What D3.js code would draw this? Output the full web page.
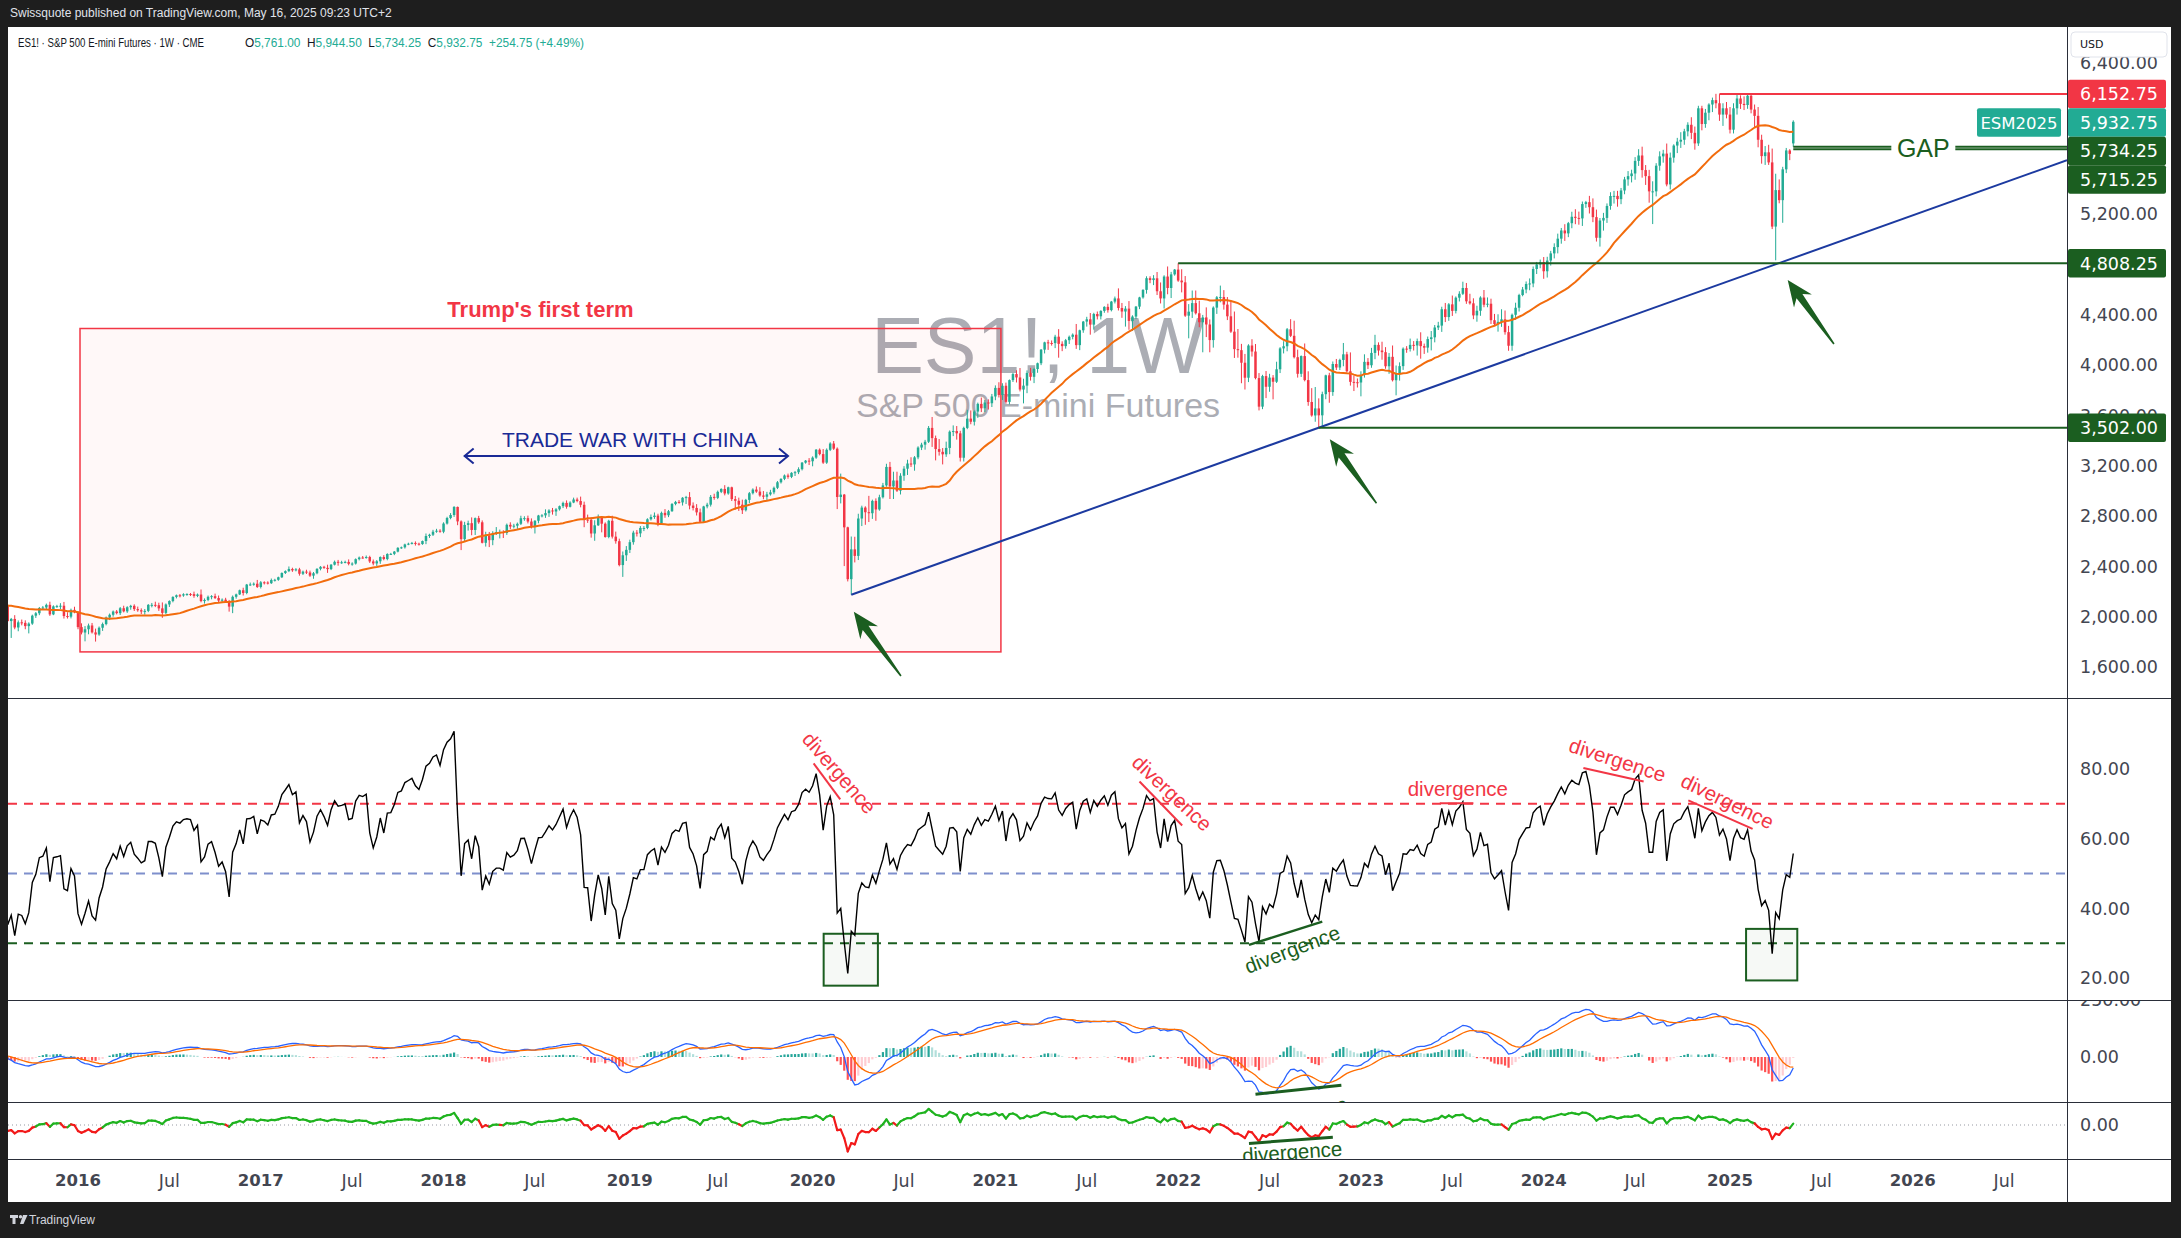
<!DOCTYPE html>
<html>
<head>
<meta charset="utf-8">
<title>ES1! 1W</title>
<script src="https://cdn.jsdelivr.net/npm/d3@7"></script>
<style>
  html, body { margin: 0; padding: 0; background: #1e1e1e; overflow: hidden; }
  text { font-family: "DejaVu Sans", sans-serif; }
  .ui { font-family: "Liberation Sans", Arial, sans-serif; }
  .narrow { font-family: "Liberation Sans Narrow", "Liberation Sans", Arial, sans-serif; }
</style>
</head>
<body>
<div id="chart"></div>
<script>
// weekly bars, first bar = week of 2014-12-29
var firstWeek = "2014-12-29";

// closes Jan..Aug 2015, only for indicator warm-up (left of the visible window)
var warmup2015 = [2058,2044,2019,2051,1995,2055,2096,2110,2104,2071,2053,2108,2061,2067,2102,2081,2117,2108,2116,2122,2126,2107,2092,2094,2110,2102,2077,2077,2127,2079,2104,2078];

var close2015 = [2086,1965,1982,1914,1955,1951,1925,1945,2008,2027,2069,2073,2094,2018,2082,2084,2087,2005,2000,2054,2035];
var close2016 = [1917,1874,1900,1930, 1875,1858,1912,1941, 1993,2015,2041,2028, 2067,2042,2075,2086,2060, 2051,2041,2046,2094, 2094,2091,2066,2030, 2097,2124,2157,2170,2168, 2178,2180,2179,2165, 2176,2124,2133,2158,2163, 2148,2128,2135,2121, 2080,2158,2177,2210, 2188,2255,2256,2262,2236];
var close2017 = [2273,2271,2266,2291, 2293,2313,2347,2362, 2379,2368,2376,2341,2358, 2351,2326,2345,2380, 2396,2388,2378,2413, 2436,2430,2432,2435,2420, 2422,2457,2470,2469, 2474,2439,2423,2440, 2474,2458,2498,2499,2517, 2547,2551,2574,2580, 2586,2580,2577,2601, 2641,2651,2675,2683,2675];
var close2018 = [2740,2784,2808,2872, 2757,2616,2729,2743, 2689,2783,2750,2587,2643, 2608,2659,2672,2672, 2665,2730,2716,2723, 2738,2782,2783,2756,2721, 2762,2804,2805,2823, 2844,2836,2853,2878,2904, 2873,2907,2931,2919, 2889,2771,2770,2661, 2726,2784,2739,2633,2762, 2636,2600,2410,2488];
var close2019 = [2531,2592,2668,2662, 2705,2705,2774,2792, 2803,2744,2825,2806,2838, 2895,2912,2908,2945, 2950,2883,2864,2829,2754, 2876,2890,2952,2944, 2992,3015,2979,3028, 2934,2921,2890,2846,2928, 2981,3010,2994,2963, 2953,2972,2988,3024, 3068,3095,3122,3111,3143, 3148,3172,3224,3240];
var close2020 = [3235,3264,3327,3292,3224, 3326,3376,3335,2951, 2970,2710,2298,2535, 2483,2780,2867,2830, 2822,2920,2852,2949,3043, 3190,3035,3082,3001, 3120,3176,3217,3210,3266, 3344,3367,3390,3500, 3419,3332,3310,3290, 3341,3470,3475,3457,3263, 3500,3574,3549,3630, 3691,3656,3702,3696,3750];
var close2021 = [3818,3762,3835,3707, 3880,3928,3901,3805, 3836,3937,3906,3968, 4014,4122,4180,4175,4174, 4225,4168,4150,4197, 4224,4241,4158,4276, 4345,4363,4321,4405,4387, 4430,4462,4436,4504, 4529,4453,4425,4448, 4350,4385,4464,4537,4597, 4690,4675,4689,4586, 4529,4703,4612,4720,4758];
var close2022 = [4671,4657,4392,4424, 4492,4411,4340,4378, 4322,4198,4456,4538, 4540,4480,4387,4265,4126, 4118,4018,3899,4155, 4107,3896,3669,3912, 3827,3900,3867,3966,4132, 4149,4284,4232,4062, 3930,4071,3880,3706,3599, 3655,3600,3768,3918, 3785,4008,3980,4040, 4085,3950,3866,3863,3861];
var close2023 = [3920,4025,3998,4096, 4160,4115,4102,3990, 4065,3879,3936,3991,4130, 4127,4160,4155,4190, 4150,4138,4206,4220, 4298,4313,4443,4381,4482, 4430,4535,4566,4612, 4506,4490,4394,4431, 4536,4479,4487,4356,4325, 4343,4363,4261,4153, 4399,4455,4556,4600, 4644,4648,4763,4799,4818];
var close2024 = [4745,4830,4887,4937, 5004,5069,5046,5127, 5178,5169,5165,5279,5294, 5254,5175,5011,5148, 5169,5264,5343,5344,5318, 5387,5475,5501,5522, 5622,5665,5549,5501, 5380,5380,5584,5658,5680, 5435,5648,5744,5775, 5790,5857,5909,5845, 5761,6040,5915,6005,6070, 6105,6080,5990,6040];
var close2025 = [5990,5870,6040,6118,6075, 6066,6140,6030,5980, 5790,5660,5690,5610, 5100,5390,5310,5555, 5705,5678,5932.75];

// upper / lower wick beyond the candle body, points
var up2015 = [12,14,8,30,15,22,20,10,8,10,8,12,10,25,8,10,20,30,30,10,25];
var dn2015 = [20,5,134,14,30,20,25,58,10,18,15,14,18,12,6,12,25,20,15,14,8];
var up2016 = [10,30,25,15, 20,30,10,12, 8,10,8,12, 10,20,8,8,12, 20,15,15,6, 15,25,20,47, 8,6,5,6,10, 8,6,8,20, 8,40,12,10,8, 20,20,10,15, 12,10,6,5, 20,5,15,10,30];
var dn2016 = [17,15,70,40, 9,56,10,25, 10,20,15,10, 15,8,12,20,15, 12,20,25,10, 20,15,20,39, 12,20,10,12,15, 10,12,15,15, 10,10,20,10,20, 8,15,20,10, 40,52,15,5, 20,10,10,10,8];
var up2017 = [10,8,10,12, 8,5,5,6, 20,10,10,12,8, 15,15,10,5, 6,8,25,5, 10,15,12,10,20, 10,6,8,12, 12,10,15,10, 5,15,6,8,5, 5,6,6,8, 8,12,8,4, 20,8,15,15,12];
var dn2017 = [12,15,10,6, 12,8,6,8, 8,12,8,15,10, 12,10,25,8, 12,8,30,8, 6,25,10,8,12, 15,8,10,8, 8,12,15,20, 20,10,10,8,10, 6,8,10,6, 6,15,12,6, 25,15,10,8,8];
var up2018 = [10,10,15,6.5, 3,8,25,20, 46,5,18,15,32, 30,20,40,20, 15,10,20,15, 10,20,15,20,25, 5,5,10,30, 10,20,10,5,10, 20,10,15,15, 35,25,40,20, 40,28,15,10,8, 40,40,20,30];
var dn2018 = [12,8,10,15, 30,87,16,45, 42,40,12,5,30, 55,40,10,50, 40,15,20,15, 25,10,20,15,20, 60,20,15,20, 30,25,35,10,15, 15,5,5,10, 20,60,25,33, 58,5,69,5,10, 15,20,10,94];
var up2019 = [30,20,15,20, 15,15,8,20, 25,15,10,30,10, 8,8,15,5, 10,40,25,30,30, 5,15,15,25, 10,5,30,5, 5,25,25,40,8, 10,10,25,35, 35,20,20,10, 10,5,8,15,5, 10,15,5,5];
var dn2019 = [45,25,20,25, 30,25,10,10, 15,25,5,20,15, 5,10,10,25, 50,30,20,25,10, 10,15,15,15, 10,10,15,10, 15,70,50,30,10, 25,10,10,10, 20,30,10,15, 10,10,10,15,10, 25,15,10,8];
var up2020 = [20,10,5,10,40, 11,10,20,10, 167,5,5,102, 100,38,15,10, 130,10,20,20,20, 25,40,70,70, 20,20,30,50,10, 10,15,15,15, 87,20,80,30, 50,10,45,40,20, 10,70,65,10, 10,50,20,25,20];
var dn2020 = [30,40,10,10,10, 10,10,10,96, 51,308,18,124, 52,33,60,100, 70,45,90,10,10, 10,100,100,10, 30,40,50,20,50, 15,20,40,10, 70,90,30,80, 20,50,35,50,30, 30,10,20,30, 50,30,30,50,30];
var up2021 = [20,45,20,25, 5,10,30,75, 55,20,40,10, 5,5,5,20,20, 15,60,20,10, 10,10,85,5, 5,20,50,10,20, 5,5,25,5, 15,80,40,20, 60,10,5,5,5, 15,15,25,50, 70,10,80,20,5];
var dn2021 = [30,20,40,15, 20,15,40,15, 110,60,30,50, 30,15,30,55,20, 40,110,40,20, 30,20,30,40, 20,40,80,40,25, 25,15,20,10, 15,20,50,120, 70,80,20,20,10, 30,25,40,30, 40,80,50,80,10];
var up2022 = [50.25,90,50,60, 100,100,100,20, 80,40,10,10, 91,55,60,125,160, 160,50,70,10, 50,60,40,10, 40,30,20,60,10, 40,10,80,120, 60,5,100,70,110, 170,80,20,5, 20,20,40,10, 90,20,150,50,30];
var dn2022 = [10,80,10,180, 50,10,40,239, 100,97,60,50, 40,40,30,10,70, 60,163,94,35, 40,10,30,20, 90,40,140,10,30, 40,40,10,10, 30,25,10,30,10, 50,98,90,40, 85,30,20,20, 50,10,30,70,40];
var up2023 = [30,60,30,40, 80,20,70,40, 30,90,60,30,10, 20,50,30,20, 70,20,20,50, 20,30,20,50,10, 70,10,20,50, 40,60,40,40, 10,60,50,40,50, 60,80,70,50, 10,40,10,20, 20,40,20,20,20];
var dn2023 = [110,20,30,20, 50,40,60,20, 60,10,120,60,30, 30,20,40,80, 100,50,40,90, 40,20,50,40,30, 40,20,30,10, 20,10,30,50, 40,20,20,30,10, 60,40,20,40, 40,40,30,10, 30,50,30,40,30];
var up2024 = [40,30,20,30, 40,20,50,10, 40,60,50,20,10, 50,70,60,20, 40,20,30,40,40, 20,20,40,30, 30,50,70,40, 50,80,20,40,30, 80,40,10,30, 60,20,20,60, 50,20,20,30,10, 20,50,72.75,40];
var dn2024 = [60,50,40,40, 50,40,60,30, 40,50,50,60,30, 50,40,30,70, 80,40,30,60,60, 40,30,50,50, 50,40,60,70, 90,260,40,40,50, 15,40,40,60, 50,40,40,50, 50,20,50,30,60, 60,40,50,90];
var up2025 = [50,60,40,30,25, 60,10,10,40, 70,40,50,60, 110,130,85,20, 20,10.25,0];
var dn2025 = [30,30,30,50,40, 40,30,30,90, 60,60,70,20, 20,268,25,180, 30,50,0];

// current week from the legend: open, high, low, close
var lastWeekOHLC = [5761, 5944.5, 5734.25, 5932.75];
var lastChange = [254.75, 4.49];

var priceTicks = [1600, 2000, 2400, 2800, 3200, 3600, 4000, 4400, 5200, 6400];
var rsiTicks = [20, 40, 60, 80];
var rsiBands = [70, 50, 30];

// drawings on the chart, in date / value terms
var trumpBox = ["2016-01-08", "2021-01-15", 1720, 4290];
var tradeWar = ["2018-02-12", "2019-11-18", 3277, "2019-01-07", 3348];
var trendAnchors = [["2020-03-23", 2174], ["2022-10-10", 3502]];
var levelValues = [6152.75, 4808.25, 3502, 5734.25, 5715.25];
var levelStarts = ["2024-12-16", "2022-01-03", "2022-10-10", "2025-05-12", "2025-05-12"];
var gapLabel = ["2026-01-26", 5724];
var arrowTips = [["2020-03-28", 2039], ["2022-11-01", 3410], ["2025-05-01", 4676]];
var arrowTails = [["2020-06-30", 1528], ["2023-02-02", 2901], ["2025-08-01", 4167]];

var rsiNotes = [["2020-02-28", 78.9, 49, "r"], ["2021-12-22", 73.1, 43, "r"], ["2023-07-14", 74.3, 0, "r"],
  ["2024-05-27", 82.6, 18, "r"], ["2025-01-01", 70.7, 26, "r"], ["2022-08-18", 28.2, -21, "g"]];
var rsiSegs = [["2020-01-08", 81.6, "2020-03-01", 71.3, "r"], ["2021-10-18", 76.4, "2022-01-11", 63.8, "r"],
  ["2023-06-08", 70.2, "2023-08-14", 70.2, "r"], ["2024-03-20", 80.3, "2024-07-18", 76.4, "r"],
  ["2024-10-15", 71.0, "2025-02-20", 62.8, "r"], ["2022-05-24", 29.5, "2022-10-17", 36.2, "g"]];
var rsiBoxes = [["2020-01-28", "2020-05-15", 32.7, 17.8], ["2025-02-07", "2025-05-20", 34.1, 19.3]];
var macdSeg = ["2022-06-06", -162, "2022-11-24", -123];
var macdNote = ["2022-09-01", -240, -10];
var oscSeg = ["2022-05-24", -17.7, "2022-11-07", -11.7];
var oscNote = ["2022-08-18", -26, -4];

// ---------------------------------------------------------------
var width = 2181, height = 1238;
var plotL = 8, plotR = 2067, axisR = 2171;
var mainTop = 27, mainBot = 698, rsiBot = 1000, macdBot = 1102, oscBot = 1159, timeBot = 1202;

var red = "#f23645", green = "#1b5e20", teal = "#22ab94", ink = "#131722", axisInk = "#434651";

var parse = d3.utcParse("%Y-%m-%d");
var fmt = d3.format(",.2f");

var closes = [].concat(warmup2015, close2015, close2016, close2017, close2018, close2019,
  close2020, close2021, close2022, close2023, close2024, close2025);
var wickUp = [].concat(up2015, up2016, up2017, up2018, up2019, up2020, up2021, up2022, up2023, up2024, up2025);
var wickDn = [].concat(dn2015, dn2016, dn2017, dn2018, dn2019, dn2020, dn2021, dn2022, dn2023, dn2024, dn2025);
var first = warmup2015.length;
var lastIdx = closes.length - 1;
var dates = closes.map(function(c, i) { return d3.utcDay.offset(parse(firstWeek), 7 * i); });

var bars = closes.slice(first).map(function(c, j) {
  var i = first + j;
  if (i === lastIdx) {
    return {date: dates[i], o: lastWeekOHLC[0], h: lastWeekOHLC[1], l: lastWeekOHLC[2], c: lastWeekOHLC[3]};
  }
  var o = closes[i - 1];
  return {date: dates[i], o: o, c: c, h: Math.max(o, c) + wickUp[j], l: Math.min(o, c) - wickDn[j]};
});

function sma(a, n) {
  return a.map(function(v, i) { return i < n - 1 ? null : d3.mean(a.slice(i - n + 1, i + 1)); });
}
function ema(a, n) {
  var k = 2 / (n + 1), out = [];
  a.forEach(function(v, i) { out.push(i === 0 ? v : v * k + out[i - 1] * (1 - k)); });
  return out;
}
function rsi(a, n) {
  var out = a.map(function() { return null; }), ag = 0, al = 0;
  for (var i = 1; i < a.length; i++) {
    var ch = a[i] - a[i - 1], g = Math.max(ch, 0), l = Math.max(-ch, 0);
    if (i <= n) { ag += g / n; al += l / n; }
    else { ag = (ag * (n - 1) + g) / n; al = (al * (n - 1) + l) / n; }
    if (i >= n) out[i] = al === 0 ? 100 : 100 - 100 / (1 + ag / al);
  }
  return out;
}

var ma30 = sma(closes, 30);
var rsi14 = rsi(closes, 14);
var e12 = ema(closes, 12), e26 = ema(closes, 26);
var macd = closes.map(function(c, i) { return e12[i] - e26[i]; });
var signal = ema(macd, 9);
var hist = macd.map(function(m, i) { return m - signal[i]; });
var osc = closes.map(function(c, i) { return ma30[i] == null ? null : (c - ma30[i]) / ma30[i] * 100; });

var series = d3.range(first - 2, closes.length).map(function(i) {
  return {i: i, date: dates[i], ma: ma30[i], rsi: rsi14[i], macd: macd[i], sig: signal[i],
    hist: hist[i], prevHist: hist[i - 1], osc: osc[i]};
});

// scales
var x = d3.scaleUtc().domain([parse("2016-01-04"), parse("2025-01-06")]).range([78, 1730]);
var yPrice = d3.scaleLinear().domain([1600, 6400]).range([667, 63]);
var yRsi = d3.scaleLinear().domain([20, 80]).range([978, 769]);
var yMacd = d3.scaleLinear().domain([0, 250]).range([1057, 999.5]);
var yOsc = d3.scaleLinear().domain([-25, 0]).range([1151, 1125]);

var svg = d3.select("#chart").append("svg")
  .attr("width", width)
  .attr("height", height);

svg.append("rect")
  .attr("width", width)
  .attr("height", height)
  .attr("fill", "#1e1e1e");

svg.append("rect")
  .attr("x", plotL)
  .attr("y", mainTop)
  .attr("width", axisR - plotL)
  .attr("height", timeBot - mainTop)
  .attr("fill", "#ffffff");

var defs = svg.append("defs");
function clip(id, y0, y1) {
  defs.append("clipPath").attr("id", id).append("rect")
    .attr("x", plotL).attr("y", y0).attr("width", plotR - plotL).attr("height", y1 - y0);
  return "url(#" + id + ")";
}

// header / footer
svg.append("text")
  .attr("class", "ui")
  .attr("x", 10)
  .attr("y", 17)
  .attr("font-size", 12)
  .attr("fill", "#e0e3eb")
  .text("Swissquote published on TradingView.com, May 16, 2025 09:23 UTC+2");

svg.append("path")
  .attr("d", "M10 1215h8v3h-2.5v6h-3v-6h-2.5z M23 1215h4.5l-4 9h-3.5z")
  .attr("fill", "#d1d4dc");
svg.append("circle").attr("cx", 20.5).attr("cy", 1216.8).attr("r", 1.7).attr("fill", "#d1d4dc");
svg.append("text")
  .attr("class", "ui")
  .attr("x", 29)
  .attr("y", 1224)
  .attr("font-size", 12)
  .attr("fill", "#d1d4dc")
  .text("TradingView");

// ---------------- main pane ----------------
var main = svg.append("g").attr("clip-path", clip("clipMain", mainTop, mainBot));

main.append("text")
  .attr("class", "ui")
  .attr("x", 1038)
  .attr("y", 373)
  .attr("text-anchor", "middle")
  .attr("font-size", 79)
  .attr("fill", "#8f929b")
  .attr("opacity", 0.75)
  .text("ES1!, 1W");
main.append("text")
  .attr("class", "ui")
  .attr("x", 1038)
  .attr("y", 417)
  .attr("text-anchor", "middle")
  .attr("font-size", 34)
  .attr("fill", "#8f929b")
  .attr("opacity", 0.75)
  .text("S&P 500 E-mini Futures");

main.append("rect")
  .attr("x", x(parse(trumpBox[0])))
  .attr("y", yPrice(trumpBox[3]))
  .attr("width", x(parse(trumpBox[1])) - x(parse(trumpBox[0])))
  .attr("height", yPrice(trumpBox[2]) - yPrice(trumpBox[3]))
  .attr("fill", "rgba(242,54,69,0.035)")
  .attr("stroke", red)
  .attr("stroke-width", 1.5);

main.append("text")
  .attr("class", "ui")
  .attr("x", (x(parse(trumpBox[0])) + x(parse(trumpBox[1]))) / 2)
  .attr("y", yPrice(trumpBox[3]) - 12)
  .attr("text-anchor", "middle")
  .attr("font-size", 22)
  .attr("font-weight", "bold")
  .attr("fill", red)
  .text("Trump's first term");

// trade war arrow
var twY = yPrice(tradeWar[2]), twX1 = x(parse(tradeWar[0])), twX2 = x(parse(tradeWar[1]));
main.append("path")
  .attr("d", "M" + twX1 + "," + twY + "H" + twX2 +
    "M" + (twX1 + 9) + "," + (twY - 7.5) + "L" + twX1 + "," + twY + "L" + (twX1 + 9) + "," + (twY + 7.5) +
    "M" + (twX2 - 9) + "," + (twY - 7.5) + "L" + twX2 + "," + twY + "L" + (twX2 - 9) + "," + (twY + 7.5))
  .attr("fill", "none")
  .attr("stroke", "#1a2a96")
  .attr("stroke-width", 2);
main.append("text")
  .attr("class", "ui")
  .attr("x", x(parse(tradeWar[3])))
  .attr("y", yPrice(tradeWar[4]))
  .attr("text-anchor", "middle")
  .attr("font-size", 21)
  .attr("fill", "#1a2a96")
  .text("TRADE WAR WITH CHINA");

// candles
var candles = main.append("g");
candles.selectAll("line")
  .data(bars)
  .join("line")
  .attr("x1", function(d) { return x(d.date); })
  .attr("x2", function(d) { return x(d.date); })
  .attr("y1", function(d) { return yPrice(d.h); })
  .attr("y2", function(d) { return yPrice(d.l); })
  .attr("stroke", function(d) { return d.c >= d.o ? teal : red; })
  .attr("stroke-width", 1);
candles.selectAll("rect")
  .data(bars)
  .join("rect")
  .attr("x", function(d) { return x(d.date) - 1.25; })
  .attr("width", 2.5)
  .attr("y", function(d) { return yPrice(Math.max(d.o, d.c)); })
  .attr("height", function(d) { return Math.max(1, Math.abs(yPrice(d.o) - yPrice(d.c))); })
  .attr("fill", function(d) { return d.c >= d.o ? teal : red; });

main.append("path")
  .datum(series.filter(function(d) { return d.ma != null; }))
  .attr("d", d3.line().x(function(d) { return x(d.date); }).y(function(d) { return yPrice(d.ma); }))
  .attr("fill", "none")
  .attr("stroke", "#f26c0d")
  .attr("stroke-width", 2);

// trend line from the 2020 low through the 2022 low
var tA = trendAnchors.map(function(a) { return [x(parse(a[0])), yPrice(a[1])]; });
var slope = (tA[1][1] - tA[0][1]) / (tA[1][0] - tA[0][0]);
main.append("line")
  .attr("x1", tA[0][0])
  .attr("y1", tA[0][1])
  .attr("x2", plotR)
  .attr("y2", tA[0][1] + slope * (plotR - tA[0][0]))
  .attr("stroke", "#1c3aa0")
  .attr("stroke-width", 2);

// horizontal levels
var gapX = x(parse(gapLabel[0]));
levelValues.forEach(function(v, k) {
  var x0 = x(parse(levelStarts[k])), yy = yPrice(v), col = k === 0 ? red : green;
  var segs = k >= 3 ? [[x0, gapX - 32], [gapX + 32, plotR]] : [[x0, plotR]];
  segs.forEach(function(s) {
    main.append("line")
      .attr("x1", s[0]).attr("x2", s[1])
      .attr("y1", yy).attr("y2", yy)
      .attr("stroke", col)
      .attr("stroke-width", 2);
  });
});
main.append("text")
  .attr("class", "ui")
  .attr("x", gapX)
  .attr("y", yPrice(gapLabel[1]))
  .attr("dy", "0.36em")
  .attr("text-anchor", "middle")
  .attr("font-size", 25)
  .attr("fill", green)
  .text("GAP");

// green arrows
function arrowPath(tip, tail) {
  var dx = tip[0] - tail[0], dy = tip[1] - tail[1], len = Math.sqrt(dx * dx + dy * dy);
  var ux = dx / len, uy = dy / len, px = -uy, py = ux;
  function pt(a, b) { return [tip[0] - ux * a + px * b, tip[1] - uy * a + py * b]; }
  var pts = [pt(0, 0), pt(26, 11), pt(20, 3.6), [tail[0] + px * 0.8, tail[1] + py * 0.8],
    [tail[0] - px * 0.8, tail[1] - py * 0.8], pt(20, -3.6), pt(26, -11)];
  return "M" + pts.map(function(p) { return p[0].toFixed(1) + "," + p[1].toFixed(1); }).join("L") + "Z";
}
arrowTips.forEach(function(t, k) {
  var tip = [x(parse(t[0])), yPrice(t[1])];
  var tail = [x(parse(arrowTails[k][0])), yPrice(arrowTails[k][1])];
  main.append("path")
    .attr("d", arrowPath(tip, tail))
    .attr("fill", green);
});

// legend
svg.append("text")
  .attr("class", "narrow")
  .attr("x", 18)
  .attr("y", 47)
  .attr("font-size", 12)
  .attr("textLength", 186)
  .attr("lengthAdjust", "spacingAndGlyphs")
  .attr("fill", ink)
  .text("ES1! \u00b7 S&P 500 E-mini Futures \u00b7 1W \u00b7 CME");
var legend = svg.append("text")
  .attr("class", "ui")
  .attr("x", 245)
  .attr("y", 47)
  .attr("font-size", 12.5)
  .attr("textLength", 339)
  .attr("lengthAdjust", "spacingAndGlyphs")
  .attr("fill", ink)
  .attr("xml:space", "preserve");
legend.append("tspan").text("O");
legend.append("tspan").attr("fill", teal).text(fmt(lastWeekOHLC[0]));
legend.append("tspan").text("  H");
legend.append("tspan").attr("fill", teal).text(fmt(lastWeekOHLC[1]));
legend.append("tspan").text("  L");
legend.append("tspan").attr("fill", teal).text(fmt(lastWeekOHLC[2]));
legend.append("tspan").text("  C");
legend.append("tspan").attr("fill", teal).text(fmt(lastWeekOHLC[3]));
legend.append("tspan").attr("fill", teal)
  .text("  +" + fmt(lastChange[0]) + " (+" + lastChange[1].toFixed(2) + "%)");

// ---------------- RSI pane ----------------
var rsiG = svg.append("g").attr("clip-path", clip("clipRsi", mainBot, rsiBot));
var bandCols = [red, "#7e8fcc", green];
rsiBands.forEach(function(v, k) {
  rsiG.append("line")
    .attr("x1", plotL).attr("x2", plotR)
    .attr("y1", yRsi(v)).attr("y2", yRsi(v))
    .attr("stroke", bandCols[k])
    .attr("stroke-width", 2)
    .attr("stroke-dasharray", "9,7");
});

rsiBoxes.forEach(function(b) {
  rsiG.append("rect")
    .attr("x", x(parse(b[0])))
    .attr("y", yRsi(b[2]))
    .attr("width", x(parse(b[1])) - x(parse(b[0])))
    .attr("height", yRsi(b[3]) - yRsi(b[2]))
    .attr("fill", "rgba(27,94,32,0.04)")
    .attr("stroke", green)
    .attr("stroke-width", 2);
});

rsiG.append("path")
  .datum(series)
  .attr("d", d3.line().x(function(d) { return x(d.date); }).y(function(d) { return yRsi(d.rsi); }))
  .attr("fill", "none")
  .attr("stroke", "#000000")
  .attr("stroke-width", 1.4);

rsiSegs.forEach(function(s) {
  rsiG.append("line")
    .attr("x1", x(parse(s[0]))).attr("y1", yRsi(s[1]))
    .attr("x2", x(parse(s[2]))).attr("y2", yRsi(s[3]))
    .attr("stroke", s[4] === "r" ? red : green)
    .attr("stroke-width", s[4] === "r" ? 2 : 2.5);
});
rsiNotes.forEach(function(n) {
  rsiG.append("text")
    .attr("class", "ui")
    .attr("transform", "translate(" + x(parse(n[0])) + "," + yRsi(n[1]) + ") rotate(" + n[2] + ")")
    .attr("text-anchor", "middle")
    .attr("dy", "0.35em")
    .attr("font-size", 20.5)
    .attr("fill", n[3] === "r" ? red : green)
    .text("divergence");
});

// ---------------- MACD pane ----------------
var macdG = svg.append("g").attr("clip-path", clip("clipMacd", rsiBot, macdBot));
macdG.selectAll("rect")
  .data(series.filter(function(d) { return d.i > 0; }))
  .join("rect")
  .attr("x", function(d) { return x(d.date) - 1.1; })
  .attr("width", 2.2)
  .attr("y", function(d) { return Math.min(yMacd(0), yMacd(d.hist)); })
  .attr("height", function(d) { return Math.abs(yMacd(d.hist) - yMacd(0)); })
  .attr("fill", function(d) {
    if (d.hist >= 0) return d.hist > d.prevHist ? "#26a69a" : "#b2dfdb";
    return d.hist > d.prevHist ? "#ffcdd2" : "#ff5252";
  });
macdG.append("path")
  .datum(series)
  .attr("d", d3.line().x(function(d) { return x(d.date); }).y(function(d) { return yMacd(d.macd); }))
  .attr("fill", "none")
  .attr("stroke", "#2962ff")
  .attr("stroke-width", 1.3);
macdG.append("path")
  .datum(series)
  .attr("d", d3.line().x(function(d) { return x(d.date); }).y(function(d) { return yMacd(d.sig); }))
  .attr("fill", "none")
  .attr("stroke", "#ff6d00")
  .attr("stroke-width", 1.3);
macdG.append("line")
  .attr("x1", x(parse(macdSeg[0]))).attr("y1", yMacd(macdSeg[1]))
  .attr("x2", x(parse(macdSeg[2]))).attr("y2", yMacd(macdSeg[3]))
  .attr("stroke", green)
  .attr("stroke-width", 3);
macdG.append("text")
  .attr("class", "ui")
  .attr("transform", "translate(" + x(parse(macdNote[0])) + "," + yMacd(macdNote[1]) + ") rotate(" + macdNote[2] + ")")
  .attr("text-anchor", "middle")
  .attr("dy", "0.35em")
  .attr("font-size", 20)
  .attr("fill", green)
  .text("divergence");

// ---------------- oscillator pane ----------------
var oscG = svg.append("g").attr("clip-path", clip("clipOsc", macdBot, oscBot));
oscG.append("line")
  .attr("x1", plotL).attr("x2", plotR)
  .attr("y1", yOsc(0)).attr("y2", yOsc(0))
  .attr("stroke", "#9598a1")
  .attr("stroke-dasharray", "1,3");
var oscPairs = d3.pairs(series);
oscG.selectAll("line.seg")
  .data(oscPairs)
  .join("line")
  .attr("class", "seg")
  .attr("x1", function(p) { return x(p[0].date); })
  .attr("y1", function(p) { return yOsc(p[0].osc); })
  .attr("x2", function(p) { return x(p[1].date); })
  .attr("y2", function(p) { return yOsc(p[1].osc); })
  .attr("stroke", function(p) { return p[1].osc >= 0 ? "#1fb31f" : "#f21a1a"; })
  .attr("stroke-width", 2.2)
  .attr("stroke-linecap", "round");
oscG.append("line")
  .attr("x1", x(parse(oscSeg[0]))).attr("y1", yOsc(oscSeg[1]))
  .attr("x2", x(parse(oscSeg[2]))).attr("y2", yOsc(oscSeg[3]))
  .attr("stroke", green)
  .attr("stroke-width", 3);
oscG.append("text")
  .attr("class", "ui")
  .attr("transform", "translate(" + x(parse(oscNote[0])) + "," + yOsc(oscNote[1]) + ") rotate(" + oscNote[2] + ")")
  .attr("text-anchor", "middle")
  .attr("dy", "0.35em")
  .attr("font-size", 20.5)
  .attr("fill", green)
  .text("divergence");

// ---------------- separators ----------------
[mainBot, rsiBot, macdBot, oscBot].forEach(function(yy) {
  svg.append("line")
    .attr("x1", plotL).attr("x2", axisR)
    .attr("y1", yy + 0.5).attr("y2", yy + 0.5)
    .attr("stroke", "#2a2e39")
    .attr("stroke-width", 1);
});
svg.append("line")
  .attr("x1", plotR + 0.5).attr("x2", plotR + 0.5)
  .attr("y1", mainTop).attr("y2", timeBot)
  .attr("stroke", "#2a2e39")
  .attr("stroke-width", 1);

// ---------------- price axis ----------------
var axisG = svg.append("g");
axisG.selectAll("text.tick")
  .data(priceTicks)
  .join("text")
  .attr("class", "tick")
  .attr("x", 2080)
  .attr("y", function(v) { return yPrice(v); })
  .attr("dy", "0.36em")
  .attr("font-size", 17.5)
  .attr("fill", axisInk)
  .text(function(v) { return fmt(v); });

var tags = levelValues.map(function(v, k) { return {v: v, col: k === 0 ? red : green}; });
tags.push({v: lastWeekOHLC[3], col: teal, last: true});
tags.sort(function(a, b) { return b.v - a.v; });
var prevY = -100;
tags.forEach(function(t) {
  t.y = Math.max(yPrice(t.v), prevY + 28.5);
  prevY = t.y;
});
tags.forEach(function(t) {
  axisG.append("rect")
    .attr("x", plotR + 1)
    .attr("y", t.y - 14.25)
    .attr("width", 98)
    .attr("height", 28.5)
    .attr("rx", 2)
    .attr("fill", t.col);
  axisG.append("text")
    .attr("x", 2080)
    .attr("y", t.y)
    .attr("dy", "0.36em")
    .attr("font-size", 17.5)
    .attr("fill", "#ffffff")
    .text(fmt(t.v));
  if (t.last) {
    axisG.append("rect")
      .attr("x", 1977)
      .attr("y", t.y - 14.25)
      .attr("width", 84)
      .attr("height", 28.5)
      .attr("rx", 2)
      .attr("fill", t.col);
    axisG.append("text")
      .attr("x", 2019)
      .attr("y", t.y)
      .attr("dy", "0.36em")
      .attr("text-anchor", "middle")
      .attr("font-size", 16.5)
      .attr("fill", "#ffffff")
      .text("ESM2025");
  }
});

axisG.append("rect")
  .attr("x", 2071)
  .attr("y", 32)
  .attr("width", 96)
  .attr("height", 25)
  .attr("rx", 4)
  .attr("fill", "#ffffff")
  .attr("stroke", "#e0e3eb");
axisG.append("text")
  .attr("x", 2080)
  .attr("y", 44.5)
  .attr("dy", "0.36em")
  .attr("font-size", 11)
  .attr("fill", ink)
  .text("USD");

axisG.selectAll("text.rsiTick")
  .data(rsiTicks)
  .join("text")
  .attr("class", "rsiTick")
  .attr("x", 2080)
  .attr("y", function(v) { return yRsi(v); })
  .attr("dy", "0.36em")
  .attr("font-size", 17.5)
  .attr("fill", axisInk)
  .text(function(v) { return fmt(v); });

defs.append("clipPath").attr("id", "clipMacdAxis").append("rect")
  .attr("x", plotR).attr("y", rsiBot + 1).attr("width", axisR - plotR).attr("height", macdBot - rsiBot - 1);
var macdAxis = axisG.append("g").attr("clip-path", "url(#clipMacdAxis)");
[0, 250].forEach(function(v) {
  macdAxis.append("text")
    .attr("x", 2080)
    .attr("y", yMacd(v))
    .attr("dy", "0.36em")
    .attr("font-size", 17.5)
    .attr("fill", axisInk)
    .text(fmt(v));
});
axisG.append("text")
  .attr("x", 2080)
  .attr("y", yOsc(0))
  .attr("dy", "0.36em")
  .attr("font-size", 17.5)
  .attr("fill", axisInk)
  .text(fmt(0));

// ---------------- time axis ----------------
var timeTicks = [];
d3.range(2016, 2027).forEach(function(yr) {
  timeTicks.push({d: d3.utcMonday.ceil(new Date(Date.UTC(yr, 0, 1))), label: String(yr), year: true});
  timeTicks.push({d: d3.utcMonday.ceil(new Date(Date.UTC(yr, 6, 1))), label: "Jul"});
});
svg.append("g").selectAll("text")
  .data(timeTicks.filter(function(t) { return x(t.d) < plotR - 30; }))
  .join("text")
  .attr("x", function(t) { return x(t.d); })
  .attr("y", (oscBot + timeBot) / 2)
  .attr("dy", "0.36em")
  .attr("text-anchor", "middle")
  .attr("font-size", function(t) { return t.year ? 16.5 : 17.5; })
  .attr("font-weight", function(t) { return t.year ? "bold" : "normal"; })
  .attr("fill", axisInk)
  .text(function(t) { return t.label; });
</script>
</body>
</html>
